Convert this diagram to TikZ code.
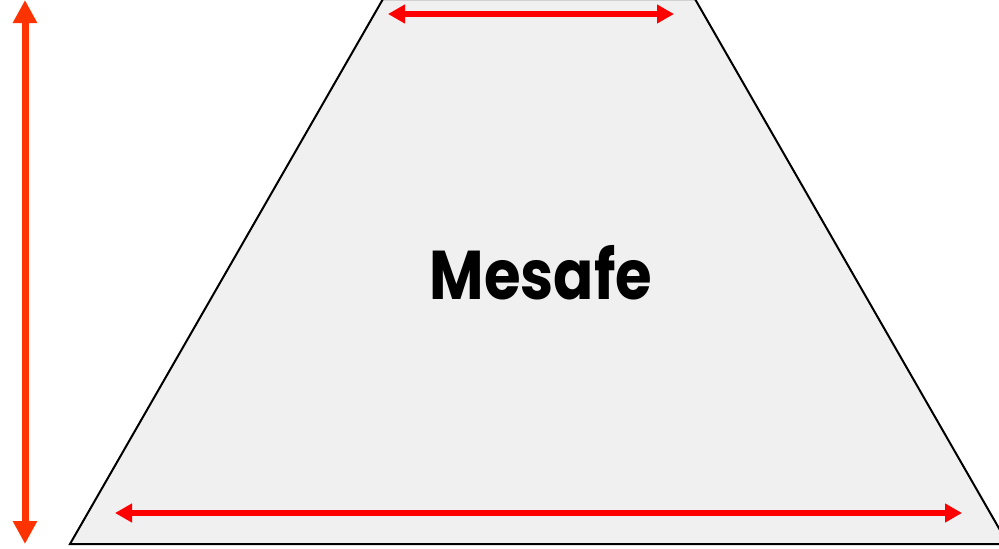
\documentclass[tikz,border=0pt]{standalone}
\usepackage{fontspec}
\setmainfont{Poppins}
\usetikzlibrary{arrows.meta}
\definecolor{vred}{HTML}{FF3300}
\definecolor{hred}{HTML}{FF0000}
\definecolor{trapfill}{HTML}{F0F0F0}
\tikzset{
  trap/.style={draw=black, line width=2pt, fill=trapfill, line join=miter},
  varrow/.style={draw=vred, line width=7pt, {Triangle[width=23pt,length=23pt]}-{Triangle[width=23pt,length=23pt]}},
  harrow/.style={draw=hred, line width=5.5pt, {Triangle[width=18pt,length=17pt]}-{Triangle[width=18pt,length=17pt]}},
  lbl/.style={font=\bfseries\fontsize{69}{72}\selectfont, inner sep=0pt}
}
\begin{document}
\begin{tikzpicture}[x=1pt,y=-1pt]
\useasboundingbox (0,0) rectangle (999,549);
\begin{scope}
\clip (0,0) rectangle (999,549);
\draw[trap] (383,-1) -- (695,-1) -- (1008,544) -- (70,544) -- cycle;
\end{scope}
\coordinate (vt) at (25,0);
\coordinate (vb) at (25,544);
\draw[varrow] (vt) -- (vb);
\coordinate (tl) at (388,14);
\coordinate (tr) at (674,14);
\draw[harrow] (tl) -- (tr);
\coordinate (bl) at (115,513);
\coordinate (br) at (962,513);
\draw[harrow] (bl) -- (br);
\begin{scope}[xscale=0.86]
\node[lbl, anchor=base, transform shape] (m) at (541/0.86,299) {Mesafe};
\end{scope}
\end{tikzpicture}
\end{document}
